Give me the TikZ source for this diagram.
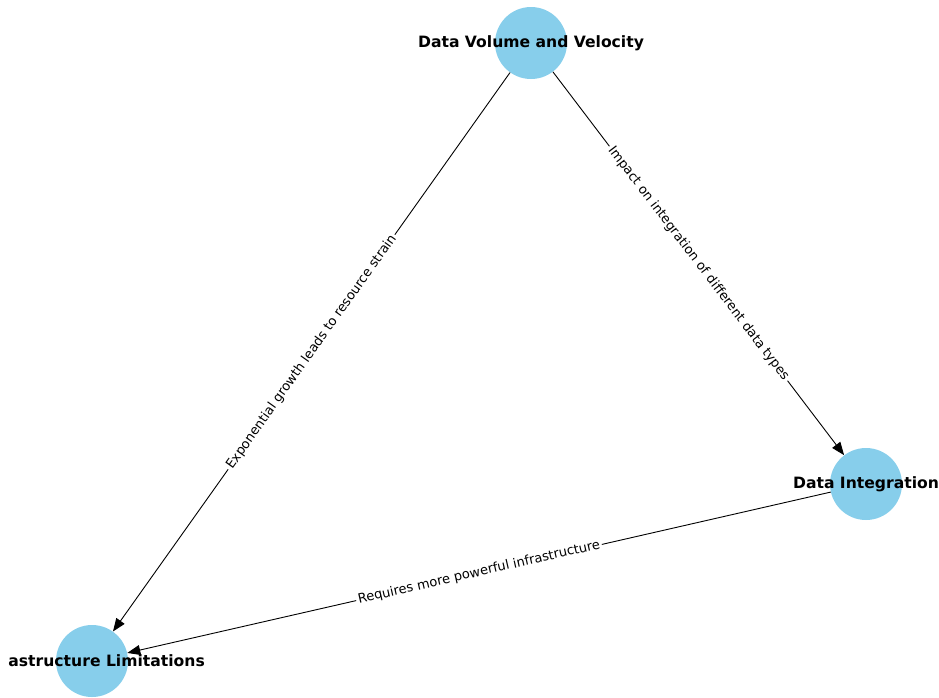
\documentclass[tikz,border=0pt]{standalone}
\usepackage{fontspec}
\setmainfont{DejaVu Sans}
\usetikzlibrary{arrows.meta}
\definecolor{skyblue}{HTML}{87CEEB}
\begin{document}
\begin{tikzpicture}[x=1pt,y=-1pt,
  ball/.style={circle,fill=skyblue,minimum size=72pt,inner sep=0pt},
  nlabel/.style={font=\bfseries\fontsize{15.6}{17}\selectfont,inner sep=0pt},
  elabel/.style={font=\fontsize{13}{14}\selectfont,fill=white,inner sep=2pt,sloped,midway},
  conn/.style={draw=black,line width=0.9pt,-{Triangle[length=13pt,width=10pt]}}]
\useasboundingbox (0,0) rectangle (939,697);
\node[ball] (v) at (531,43) {};
\node[ball] (i) at (866,484) {};
\node[ball] (l) at (92,661) {};
\node[nlabel] (vt) at (531,43) {Data Volume and Velocity};
\node[nlabel] (it) at (866,484) {Data Integration};
\node[nlabel,anchor=east] (lt) at (205,661) {astructure Limitations};
\draw[conn] (v) -- node[elabel] (e1) {Impact on integration of different data types} (i);
\draw[conn] (v) -- node[elabel] (e2) {Exponential growth leads to resource strain} (l);
\draw[conn] (i) -- node[elabel] (e3) {Requires more powerful infrastructure} (l);
\end{tikzpicture}
\end{document}
